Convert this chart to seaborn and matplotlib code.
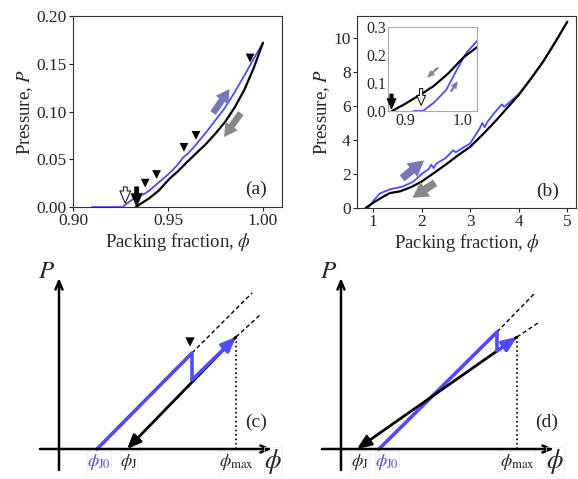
import matplotlib
matplotlib.use("Agg")
import matplotlib.pyplot as plt
import seaborn as sns

# ---- panel (a): pressure vs packing fraction near jamming
a_blue_phi = [0.910, 0.926, 0.930, 0.9335, 0.936, 0.937, 0.940, 0.9447, 0.950, 0.955,
              0.958, 0.960, 0.9642, 0.965, 0.970, 0.975, 0.980, 0.985, 0.990, 0.995, 1.000]
a_blue_P = [0.0, 0.0, 0.006, 0.011, 0.014, 0.013, 0.017, 0.025, 0.034, 0.044,
            0.052, 0.055, 0.064, 0.066, 0.078, 0.091, 0.104, 0.120, 0.137, 0.155, 0.172]
a_black_phi = [0.933, 0.940, 0.945, 0.951, 0.955, 0.960, 0.9668, 0.970, 0.975, 0.980,
               0.985, 0.990, 0.995, 1.000]
a_black_P = [0.0, 0.009, 0.017, 0.030, 0.037, 0.047, 0.060, 0.066, 0.077, 0.089,
             0.104, 0.122, 0.145, 0.172]
a_tri_phi = [0.938, 0.944, 0.9584, 0.9647, 0.9932]
a_tri_P = [0.025, 0.034, 0.0625, 0.075, 0.156]

# ---- panel (b): full compression / decompression
b_blue_phi = [0.90, 1.00, 1.14, 1.35, 1.60, 1.83, 2.00, 2.15, 2.20, 2.25, 2.30, 2.50,
              2.65, 2.70, 3.00, 3.20, 3.25, 3.30, 3.35, 3.50, 3.65, 3.70, 4.00, 4.25,
              4.50, 4.75, 5.00]
b_blue_P = [0.0, 0.40, 0.85, 1.10, 1.25, 1.55, 2.00, 2.30, 2.55, 2.35, 2.60, 2.95,
            3.40, 3.28, 3.80, 4.70, 5.00, 4.75, 5.05, 5.60, 6.10, 5.95, 6.70, 7.62,
            8.62, 9.76, 10.96]
b_black_phi = [0.85, 1.00, 1.20, 1.35, 1.56, 1.80, 2.00, 2.25, 2.52, 2.75, 3.00, 3.25,
               3.55, 3.75, 4.00, 4.25, 4.50, 4.75, 5.00]
b_black_P = [0.0, 0.30, 0.65, 0.88, 0.98, 1.25, 1.55, 2.05, 2.60, 3.10, 3.60, 4.30,
             5.20, 5.85, 6.65, 7.60, 8.60, 9.75, 10.96]

# inset of (b)
in_blue_phi = [0.915, 0.931, 0.950, 0.971, 0.990, 1.005, 1.024]
in_blue_P = [0.0, 0.0, 0.030, 0.075, 0.150, 0.206, 0.250]
in_black_phi = [0.878, 0.900, 0.931, 0.950, 0.975, 1.000, 1.024]
in_black_P = [0.0, 0.025, 0.064, 0.090, 0.135, 0.190, 0.228]

# ---- schematic panels (arbitrary units, origin at axes crossing)
c_blue_phi = [38, 133, 133]
c_blue_P = [0, 96, 69]
c_phi_J0, c_phi_J, c_phi_max, c_P_max = 38, 68, 177, 112
c_dash1 = ([133, 193], [96, 156])
c_dash2 = ([177, 201], [112, 134])
c_tri = (131, 107)

d_blue_phi = [38, 156, 156]
d_blue_P = [0, 117, 98]
d_phi_J0, d_phi_J, d_phi_max, d_P_max = 38, 16, 176, 112
d_dash1 = ([156, 194], [117, 156])
d_dash2 = ([176, 197], [112, 126])

BLUE = "#4d4dff"
PURPLE = "#7878b8"
GRAY = "#888888"

sns.set_style("ticks")
plt.rcParams["font.family"] = ["Liberation Serif", "DejaVu Serif"]
plt.rcParams["mathtext.fontset"] = "stix"

fig = plt.figure(figsize=(5.78, 4.79), dpi=100)
ax_a = fig.add_axes([0.1263, 0.5678, 0.3616, 0.3988])
ax_b = fig.add_axes([0.6176, 0.5658, 0.379, 0.4008])
ax_in = fig.add_axes([0.6713, 0.7683, 0.154, 0.1754])
ax_c = fig.add_axes([0, 0, 0.5017, 0.499])
ax_d = fig.add_axes([0.5017, 0, 0.4983, 0.499])


def style_main(ax):
    for s in ax.spines.values():
        s.set_color("#333333")
        s.set_linewidth(0.8)
    ax.tick_params(direction="out", length=3, width=0.8, labelsize=12.5, pad=1.5)
    ax.set_xlabel(r"Packing fraction, $\phi$", fontsize=13.5, labelpad=1)
    ax.set_ylabel(r"Pressure, $P$", fontsize=13.5, labelpad=1)


def fat_arrow(ax, start, end, color, scale=12):
    ax.annotate("", xy=end, xytext=start,
                arrowprops=dict(arrowstyle="simple,head_width=0.9,head_length=0.8,tail_width=0.4",
                                fc=color, ec="none", mutation_scale=scale, shrinkA=0, shrinkB=0))


def down_arrow(ax, start, end, filled, scale=11):
    ax.annotate("", xy=end, xytext=start,
                arrowprops=dict(arrowstyle="simple,head_width=0.7,head_length=0.8,tail_width=0.25",
                                fc="black" if filled else "white", ec="black", lw=0.7,
                                mutation_scale=scale, shrinkA=0, shrinkB=0))


# ---------- (a)
sns.lineplot(x=a_blue_phi, y=a_blue_P, ax=ax_a, color=BLUE, lw=1.3, sort=False, estimator=None)
sns.lineplot(x=a_black_phi, y=a_black_P, ax=ax_a, color="black", lw=1.6, sort=False, estimator=None)
sns.scatterplot(x=a_tri_phi, y=a_tri_P, ax=ax_a, marker="v", color="black", s=40, edgecolor="none")
ax_a.set_xlim(0.90, 1.01)
ax_a.set_ylim(0.0, 0.20)
ax_a.set_xticks([0.90, 0.95, 1.00])
ax_a.set_yticks([0.00, 0.05, 0.10, 0.15, 0.20])
ax_a.set_xticklabels(["0.90", "0.95", "1.00"])
ax_a.set_yticklabels(["0.00", "0.05", "0.10", "0.15", "0.20"])
style_main(ax_a)
fat_arrow(ax_a, (0.9737, 0.0984), (0.9824, 0.1235), PURPLE)
fat_arrow(ax_a, (0.9883, 0.0984), (0.9795, 0.0733), GRAY)
down_arrow(ax_a, (0.9335, 0.021), (0.9335, 0.001), True)
down_arrow(ax_a, (0.9275, 0.021), (0.9275, 0.004), False)
ax_a.text(0.876, 0.094, "(a)", transform=ax_a.transAxes, fontsize=14, ha="center", va="center")

# ---------- (b)
sns.lineplot(x=b_blue_phi, y=b_blue_P, ax=ax_b, color=BLUE, lw=1.3, sort=False, estimator=None)
sns.lineplot(x=b_black_phi, y=b_black_P, ax=ax_b, color="black", lw=1.6, sort=False, estimator=None)
ax_b.set_xlim(0.67, 5.18)
ax_b.set_ylim(0, 11.3)
ax_b.set_xticks([1, 2, 3, 4, 5])
ax_b.set_yticks([0, 2, 4, 6, 8, 10])
style_main(ax_b)
fat_arrow(ax_b, (1.60, 1.75), (2.05, 2.80), PURPLE, scale=14)
fat_arrow(ax_b, (2.28, 1.48), (1.81, 0.60), GRAY, scale=14)
ax_b.text(0.872, 0.086, "(b)", transform=ax_b.transAxes, fontsize=14, ha="center", va="center")

# inset
sns.lineplot(x=in_blue_phi, y=in_blue_P, ax=ax_in, color=BLUE, lw=1.3, sort=False, estimator=None)
sns.lineplot(x=in_black_phi, y=in_black_P, ax=ax_in, color="black", lw=1.6, sort=False, estimator=None)
ax_in.set_xlim(0.871, 1.024)
ax_in.set_ylim(0.0, 0.30)
ax_in.set_xticks([0.9, 1.0])
ax_in.set_yticks([0.0, 0.1, 0.2, 0.3])
ax_in.set_xticklabels(["0.9", "1.0"])
ax_in.set_yticklabels(["0.0", "0.1", "0.2", "0.3"])
for s in ax_in.spines.values():
    s.set_color("#aaaaaa")
    s.set_linewidth(0.8)
ax_in.tick_params(length=0, labelsize=11.5, pad=1.5)
down_arrow(ax_in, (0.877, 0.060), (0.877, 0.008), True, scale=9)
down_arrow(ax_in, (0.928, 0.080), (0.928, 0.020), False, scale=9)
ax_in.annotate("", xy=(0.938, 0.119), xytext=(0.957, 0.155),
               arrowprops=dict(arrowstyle="simple,head_width=0.6,head_length=0.7,tail_width=0.2",
                               fc=GRAY, ec="none", mutation_scale=8, shrinkA=0, shrinkB=0))
ax_in.annotate("", xy=(0.991, 0.107), xytext=(0.979, 0.069),
               arrowprops=dict(arrowstyle="simple,head_width=0.6,head_length=0.7,tail_width=0.2",
                               fc=PURPLE, ec="none", mutation_scale=8, shrinkA=0, shrinkB=0))


# ---------- schematics (c) and (d)
def schematic(ax, xlim, blue_phi, blue_P, phi_J0, phi_J, phi_max, P_max, dash1, dash2,
              J_lab_x, J0_lab_x, tag, tri=None):
    ax.set_xlim(*xlim)
    ax.set_ylim(-30, 209)
    ax.axis("off")
    # coordinate axes
    ax.annotate("", xy=(213, 0), xytext=(-19, 0),
                arrowprops=dict(arrowstyle="->,head_length=0.6,head_width=0.25", lw=1.8,
                                color="black", shrinkA=0, shrinkB=0))
    ax.annotate("", xy=(0, 171), xytext=(0, -21),
                arrowprops=dict(arrowstyle="->,head_length=0.6,head_width=0.25", lw=1.8,
                                color="black", shrinkA=0, shrinkB=0))
    ax.plot(*dash1, color="black", lw=1.0, ls=(0, (3, 2)))
    ax.plot(*dash2, color="black", lw=1.0, ls=(0, (3, 2)))
    ax.plot([phi_max, phi_max], [0, P_max], color="black", lw=1.2, ls=":")
    # decompression (black)
    ax.annotate("", xy=(phi_J, 0), xytext=(phi_max, P_max),
                arrowprops=dict(arrowstyle="-|>,head_length=0.6,head_width=0.25", lw=2.0,
                                color="black", mutation_scale=14, shrinkA=0, shrinkB=0))
    # compression (blue)
    sns.lineplot(x=blue_phi, y=blue_P, ax=ax, color=BLUE, lw=2.6, sort=False, estimator=None)
    ax.annotate("", xy=(phi_max, P_max), xytext=(blue_phi[-1], blue_P[-1]),
                arrowprops=dict(arrowstyle="-|>,head_length=0.6,head_width=0.25", lw=2.6,
                                color=BLUE, mutation_scale=14, shrinkA=0, shrinkB=0))
    if tri is not None:
        ax.scatter([tri[0]], [tri[1]], marker="v", color="black", s=45, edgecolor="none")
    box = dict(facecolor="none", edgecolor="#ececec", lw=0.5, pad=0.4)
    ax.text(J0_lab_x, -13, r"$\phi_{\rm J0}$", color=BLUE, fontsize=13, ha="center", va="center", bbox=box)
    ax.text(J_lab_x, -13, r"$\phi_{\rm J}$", fontsize=13, ha="center", va="center", bbox=box)
    ax.text(phi_max, -13, r"$\phi_{\rm max}$", fontsize=13, ha="center", va="center", bbox=box)
    ax.text(214, -13, r"$\phi$", fontsize=19, ha="center", va="center", bbox=box)
    ax.text(-12, 177, r"$P$", fontsize=18, ha="center", va="center")
    ax.text(tag[1], 27, tag[0], fontsize=14, ha="center", va="center")


schematic(ax_c, (-59, 231), c_blue_phi, c_blue_P, c_phi_J0, c_phi_J, c_phi_max, c_P_max,
          c_dash1, c_dash2, 70, 40, ("(c)", 197), tri=c_tri)
schematic(ax_d, (-51, 237), d_blue_phi, d_blue_P, d_phi_J0, d_phi_J, d_phi_max, d_P_max,
          d_dash1, d_dash2, 19, 46, ("(d)", 206))

fig.savefig("out.png", dpi=100)
